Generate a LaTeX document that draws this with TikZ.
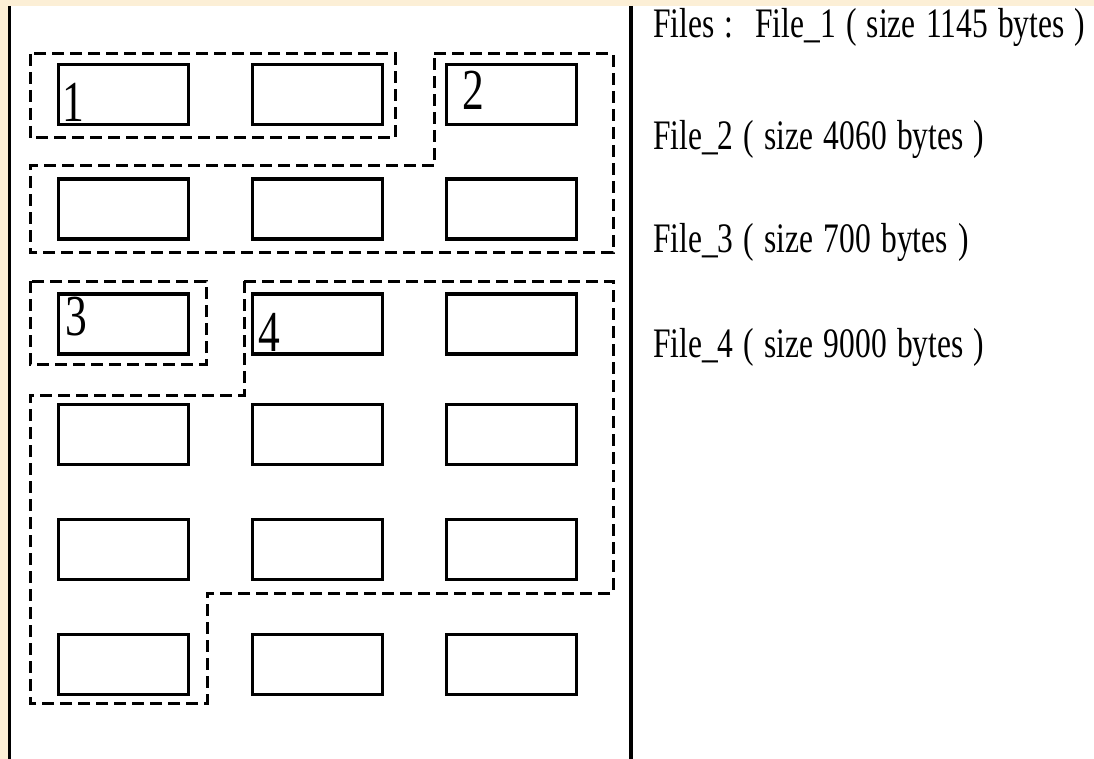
\documentclass[tikz,border=0pt]{standalone}
\usepackage{fontspec}
\newfontfamily\boxfont[FakeStretch=0.75,WordSpace=1.3]{Liberation Serif}
\definecolor{cream}{RGB}{252,239,214}

\begin{document}
\begin{tikzpicture}[x=1pt,y=-1pt,
    cell/.style={draw,line width=3.5pt,minimum width=130pt,minimum height=60pt,inner sep=0pt},
    group/.style={line width=3pt,dash pattern=on 12pt off 6pt},
    filetext/.style={anchor=base west,inner sep=0pt,font=\boxfont\fontsize{42}{50}\selectfont},
    blocknum/.style={anchor=base west,inner sep=0pt,font=\boxfont\fontsize{58}{60}\selectfont}]
    \useasboundingbox (0,0) rectangle (1094,759);
    \fill[cream] (0,0) rectangle (1094,759);
    \fill[white] (8,6) rectangle (1094,759);
    \draw[line width=3.5pt] (9.5,6) -- (9.5,759);
    \draw[line width=3.5pt] (631,6) -- (631,759);
    % disk blocks
    \foreach \r/\y in {1/94.5,2/209,3/324,4/434.5,5/549.5,6/664.5}
        \foreach \c/\x in {1/123.5,2/317.5,3/511.5}
            \node[cell] (c\r\c) at (\x,\y) {};
    % files
    \draw[group] (30,54) rectangle (395,138);
    \draw[group] (434,54) -- (613,54) -- (613,253) -- (30,253) -- (30,166) -- (434,166) -- cycle;
    \draw[group] (30,281) rectangle (206,364);
    \draw[group] (244,281) -- (613,281) -- (613,593) -- (207,593) -- (207,703) -- (30,703) -- (30,395) -- (244,395) -- cycle;
    \node[blocknum] (n1) at (62,122) {1};
    \node[blocknum] (n2) at (462,110) {2};
    \node[blocknum] (n3) at (65,335) {3};
    \node[blocknum] (n4) at (258,351) {4};
    % list of files
    \node[filetext] (f1) at (653,38) {Files :\hspace*{22pt}File\_1 ( size 1145 bytes )};
    \node[filetext] (f2) at (653,150) {File\_2 ( size 4060 bytes )};
    \node[filetext] (f3) at (653,252) {File\_3 ( size 700 bytes )};
    \node[filetext] (f4) at (653,357) {File\_4 ( size 9000 bytes )};
\end{tikzpicture}
\end{document}
